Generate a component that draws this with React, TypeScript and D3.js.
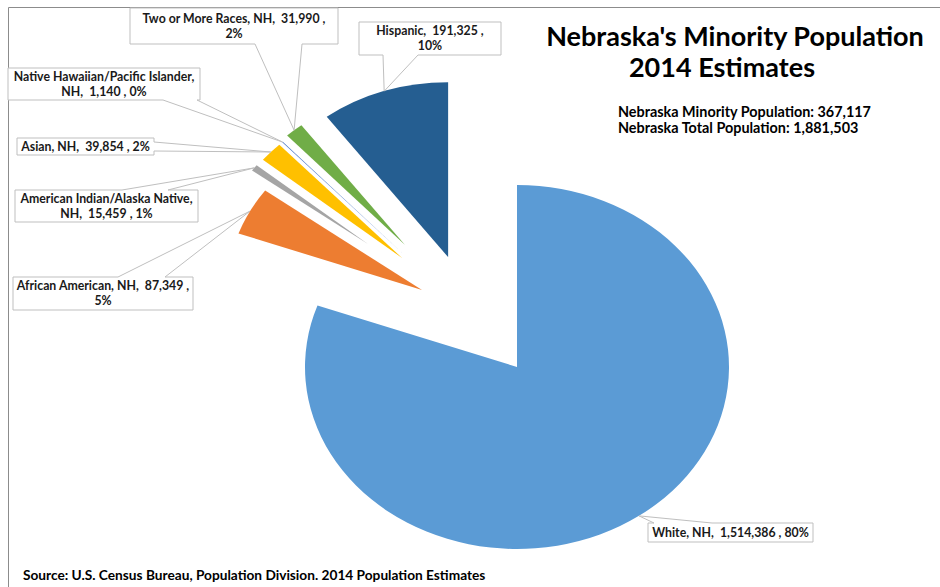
import React from "react";
import * as d3 from "d3";

// ---- data ----
const categories = [
  "White, NH",
  "African American, NH",
  "American Indian/Alaska Native, NH",
  "Asian, NH",
  "Native Hawaiian/Pacific Islander, NH",
  "Two or More Races, NH",
  "Hispanic",
];
const values = [1514386, 87349, 15459, 39854, 1140, 31990, 191325];
const colors = ["#5B9BD5", "#ED7D31", "#A5A5A5", "#FFC000", "#4472C4", "#70AD47", "#255E91"];
const titleLines = ["Nebraska's Minority Population", "2014 Estimates"];
const infoLines = ["Nebraska Minority Population: 367,117", "Nebraska Total Population: 1,881,503"];
const sourceText = "Source: U.S. Census Bureau, Population Division. 2014 Population Estimates";
// where each label wraps: "none", "pct" (before percent), "name" (after first comma)
const labelWrap = ["none", "pct", "name", "none", "name", "pct", "pct"];

// ---- layout / style ----
const W = 940, H = 587;
const CX = 517, CY = 367, RX = 212, RY = 182;
// per-slice explosion (fraction of rx / ry) and radius scale
const explode = [[0, 0], [-0.448, -0.423], [-0.703, -0.676], [-0.542, -0.599], [-0.535, -0.62], [-0.528, -0.670], [-0.325, -0.604]];
const rScale = [1, 0.92, 0.68, 0.85, 0.84, 0.82, 0.96];
// callout boxes: x, y, w, h, side, base1, base2
const boxes: [number, number, number, number, string, number, number][] = [
  [648, 523, 165, 19, "top", 6, 64],
  [13, 277, 180, 33, "top", 105, 152],
  [15, 190, 183, 32, "top", 107, 153],
  [17, 138, 137, 17, "right", 4, 13],
  [8, 68, 192, 32, "bottom", 155, 189],
  [130, 8, 208, 36, "bottom", 125, 172],
  [359, 22, 142, 33, "bottom", 24, 59],
];
const titleX = [735, 722];

const FONT = "Lato, 'Open Sans', sans-serif";

function calloutPath(b: [number, number, number, number, string, number, number], tip: [number, number]) {
  const [x, y, w, h, side, b1, b2] = b;
  const t = `L${tip[0]},${tip[1]}`;
  if (side === "top")
    return `M${x},${y}L${x + b1},${y}${t}L${x + b2},${y}L${x + w},${y}L${x + w},${y + h}L${x},${y + h}Z`;
  if (side === "right")
    return `M${x},${y}L${x + w},${y}L${x + w},${y + b1}${t}L${x + w},${y + b2}L${x + w},${y + h}L${x},${y + h}Z`;
  if (side === "bottom")
    return `M${x},${y}L${x + w},${y}L${x + w},${y + h}L${x + b2},${y + h}${t}L${x + b1},${y + h}L${x},${y + h}Z`;
  return `M${x},${y}L${x + w},${y}L${x + w},${y + h}L${x},${y + h}L${x},${y + b2}${t}L${x},${y + b1}Z`;
}

export default function App() {
  const total = d3.sum(values);
  const fmt = d3.format(",");
  const pctFmt = d3.format(".0%");
  const pie = d3.pie<number>().sort(null).startAngle(0).endAngle(2 * Math.PI);
  const arcs = pie(values);
  const sx = RX / RY;

  const slices = arcs.map((a, i) => {
    const k = rScale[i];
    const ax = CX + explode[i][0] * RX;
    const ay = CY + explode[i][1] * RY;
    const path = d3.arc<any>().innerRadius(0).outerRadius(RY * k)(a) as string;
    const mid = (a.startAngle + a.endAngle) / 2;
    const tip: [number, number] = [ax + Math.sin(mid) * RX * k, ay - Math.cos(mid) * RY * k];
    const pct = pctFmt(values[i] / total);
    let lines: string[];
    const name = categories[i];
    if (labelWrap[i] === "pct") lines = [`${name},  ${fmt(values[i])} ,`, pct];
    else if (labelWrap[i] === "name") {
      const c = name.indexOf(", ");
      lines = [name.slice(0, c + 1), `${name.slice(c + 2)},  ${fmt(values[i])} , ${pct}`];
    } else lines = [`${name},  ${fmt(values[i])} , ${pct}`];
    return { path, ax, ay, tip, lines, i };
  });

  return (
    <svg width={W} height={H} style={{ position: "absolute", left: 0, top: 0, background: "#fff" }}>
      <rect x={0} y={0} width={W} height={H} fill="#fff" />
      <path d={`M8.5,${H}V7.5H${W}`} fill="none" stroke="#8c8c8c" strokeWidth={1} />
      {slices.map((s) => (
        <path
          key={"s" + s.i}
          d={s.path}
          transform={`translate(${s.ax},${s.ay}) scale(${sx},1)`}
          fill={colors[s.i]}
        />
      ))}
      {slices.map((s) => {
        const b = boxes[s.i];
        const [x, y, w, h] = b;
        const lh = 15;
        const y0 = y + h / 2 - ((s.lines.length - 1) * lh) / 2;
        return (
          <g key={"l" + s.i}>
            <path d={calloutPath(b, s.tip)} fill="#fff" stroke="#bfbfbf" strokeWidth={1} />
            {s.lines.map((ln, j) => (
              <text
                key={j}
                x={x + w / 2}
                y={y0 + j * lh}
                dy="0.35em"
                textAnchor="middle"
                fontFamily={FONT}
                fontWeight="bold"
                fontSize={12.3}
                fill="#1a1a1a"
                style={{ whiteSpace: "pre" }}
              >
                {ln}
              </text>
            ))}
          </g>
        );
      })}
      {titleLines.map((t, j) => (
        <text
          key={"t" + j}
          x={titleX[j]}
          y={46 + j * 31}
          textAnchor="middle"
          fontFamily={FONT}
          fontWeight="bold"
          fontSize={27}
          fill="#000"
        >
          {t}
        </text>
      ))}
      {infoLines.map((t, j) => (
        <text
          key={"i" + j}
          x={618}
          y={117 + j * 16}
          fontFamily={FONT}
          fontWeight="bold"
          fontSize={14.4}
          fill="#000"
        >
          {t}
        </text>
      ))}
      <text x={23} y={580} fontFamily={FONT} fontWeight="bold" fontSize={13.7} fill="#000">
        {sourceText}
      </text>
    </svg>
  );
}
